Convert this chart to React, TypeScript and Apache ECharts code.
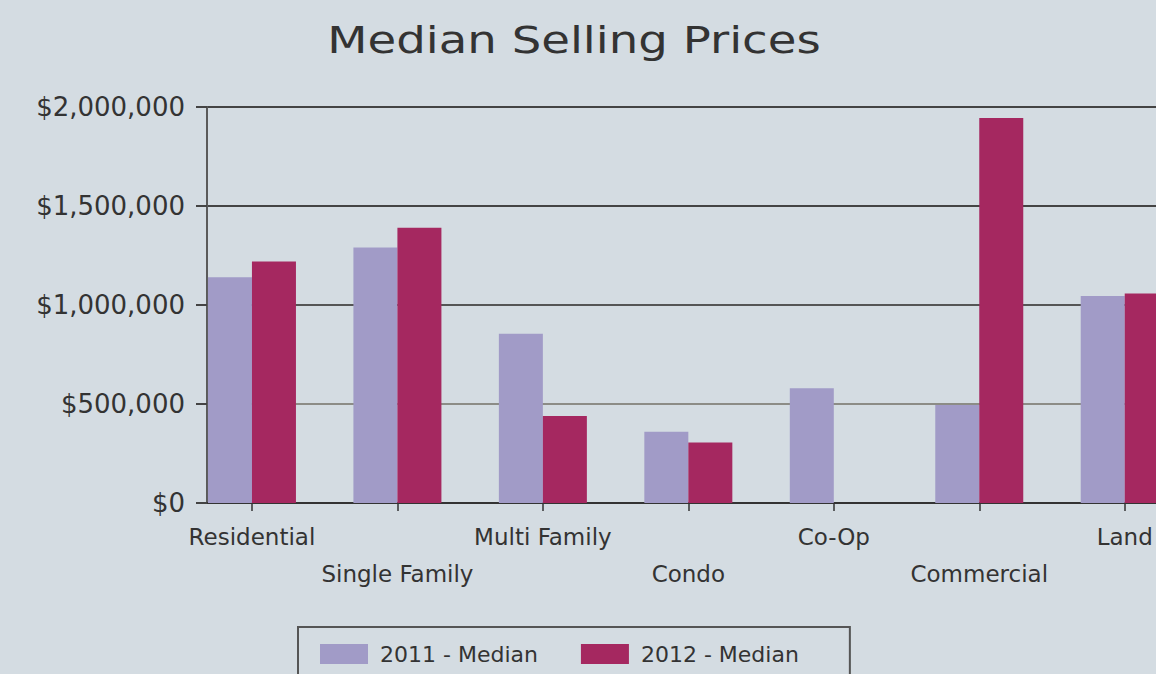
import React, { useEffect, useRef } from "react";
import * as echarts from "echarts";

const chartTitle = "Median Selling Prices";
const categories = ["Residential", "Single Family", "Multi Family", "Condo", "Co-Op", "Commercial", "Land"];
const seriesNames = ["2011 - Median", "2012 - Median"];
const median2011 = [1140000, 1290000, 855000, 360000, 580000, 495000, 1045000];
const median2012 = [1220000, 1390000, 440000, 305000, null, 1945000, 1058000];
const yTicks = [0, 500000, 1000000, 1500000, 2000000];

export default function App() {
  const ref = useRef<HTMLDivElement>(null);
  useEffect(() => {
    const chart = echarts.init(ref.current!, null, { renderer: "svg" });
    const idx = categories.map((_, i) => i);
    chart.setOption({
      animation: false,
      backgroundColor: "#d4dce2",
      textStyle: { fontFamily: "DejaVu Sans" },
      graphic: [
        {
          type: "text",
          x: 574,
          y: 40,
          scaleX: 1.26,
          style: {
            text: chartTitle,
            font: '37px "DejaVu Sans"',
            fill: "#333",
            align: "center",
            verticalAlign: "middle",
            textAlign: "center",
            textVerticalAlign: "middle",
          },
        },
      ],
      grid: { left: 207, top: 107, right: 0, bottom: 171, containLabel: false },
      xAxis: {
        type: "value",
        min: -0.309,
        max: 6.6,
        splitLine: { show: false },
        axisLine: { show: true, onZero: false, lineStyle: { color: "#333", width: 2 } },
        axisTick: { show: true, customValues: idx, length: 8, lineStyle: { color: "#333", width: 1.5 } },
        axisLabel: {
          customValues: idx,
          formatter: (v: number) => {
            const i = Math.round(v);
            return i % 2 ? "\n" + categories[i] : categories[i];
          },
          fontFamily: "DejaVu Sans",
          fontSize: 23,
          color: "#333",
          lineHeight: 37,
          margin: 15,
        },
      },
      yAxis: {
        type: "value",
        min: yTicks[0],
        max: yTicks[yTicks.length - 1],
        interval: yTicks[1] - yTicks[0],
        axisLine: { show: true, onZero: false, lineStyle: { color: "#5a5a5a", width: 2 } },
        axisTick: { show: true, length: 11, lineStyle: { color: "#444", width: 2 } },
        axisLabel: {
          formatter: (v: number) => "$" + v.toLocaleString("en-US"),
          fontFamily: "DejaVu Sans",
          fontSize: 26,
          color: "#333",
          margin: 22,
        },
        splitLine: {
          show: true,
          lineStyle: { color: ["#444", "#8c8c86", "#555", "#444", "#444"], width: 2 },
        },
      },
      legend: {
        left: 298,
        top: 627,
        orient: "horizontal",
        itemWidth: 48,
        itemHeight: 20,
        itemGap: 43,
        padding: [16, 51, 40, 22],
        borderColor: "#555",
        borderWidth: 2,
        icon: "rect",
        textStyle: { fontFamily: "DejaVu Sans", fontSize: 22, color: "#333", padding: [0, 0, 0, 7] },
        data: seriesNames,
      },
      series: [
        {
          name: seriesNames[0],
          type: "bar",
          barWidth: 44,
          barGap: "0%",
          data: idx.map((i) => [i, median2011[i]]),
          itemStyle: { color: "#a19bc7" },
        },
        {
          name: seriesNames[1],
          type: "bar",
          barWidth: 44,
          barGap: "0%",
          data: idx.map((i) => [i, median2012[i]]),
          itemStyle: { color: "#a52860" },
        },
      ],
    });
    return () => chart.dispose();
  }, []);
  return (
    <div style={{ position: "absolute", left: 0, top: 0, width: 1156, height: 674, overflow: "hidden" }}>
      <div ref={ref} style={{ width: 1212, height: 674 }} />
    </div>
  );
}
